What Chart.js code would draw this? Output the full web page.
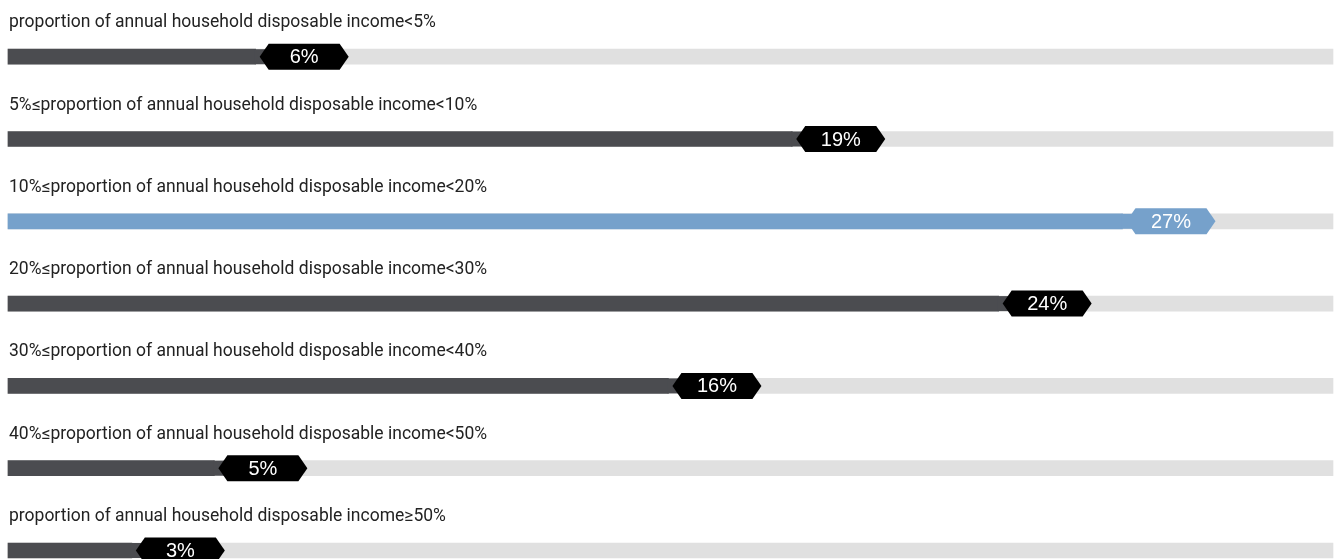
<!DOCTYPE html>
<html>
<head>
<meta charset="utf-8">
<script src="https://cdn.jsdelivr.net/npm/chart.js@4.4.1/dist/chart.umd.min.js"></script>
<style>
  html, body { margin: 0; padding: 0; background: #ffffff; overflow: hidden; }
  #wrap { width: 1338px; height: 559px; }
</style>
</head>
<body>
<div id="wrap"><canvas id="c" width="1338" height="559"></canvas></div>
<script>
const categories = [
  "proportion of annual household disposable income<5%",
  "5%≤proportion of annual household disposable income<10%",
  "10%≤proportion of annual household disposable income<20%",
  "20%≤proportion of annual household disposable income<30%",
  "30%≤proportion of annual household disposable income<40%",
  "40%≤proportion of annual household disposable income<50%",
  "proportion of annual household disposable income≥50%"
];
const values = [6, 19, 27, 24, 16, 5, 3];
const valueLabels = ["6%", "19%", "27%", "24%", "16%", "5%", "3%"];
const highlightIndex = 2;
const axisMax = 32.1;
const trackValues = categories.map(() => axisMax);

const DARK = "#4b4c50";
const BLUE = "#76a1cb";
const TRACK = "#e0e0e0";

const barColors = values.map((v, i) => i === highlightIndex ? BLUE : DARK);

const overlayPlugin = {
  id: "overlay",
  afterDatasetsDraw(chart) {
    const ctx = chart.ctx;
    const meta = chart.getDatasetMeta(0);
    ctx.save();
    meta.data.forEach((el, i) => {
      const x = el.x, y = el.y;
      const col = barColors[i];
      // category label above bar
      ctx.fillStyle = "#222222";
      ctx.font = "17.5px Roboto";
      ctx.textAlign = "left";
      ctx.textBaseline = "alphabetic";
      ctx.fillText(categories[i], chart.chartArea.left + 1, y - 29.5);
      // connector under badge
      ctx.fillStyle = col;
      ctx.fillRect(x - 1, y - 7.5, 16, 15);
      // badge
      const bx = x + 4, h = 13, w = 89, tip = 9;
      ctx.beginPath();
      ctx.moveTo(bx, y);
      ctx.lineTo(bx + tip, y - h);
      ctx.lineTo(bx + w - tip, y - h);
      ctx.lineTo(bx + w, y);
      ctx.lineTo(bx + w - tip, y + h);
      ctx.lineTo(bx + tip, y + h);
      ctx.closePath();
      ctx.fillStyle = i === highlightIndex ? BLUE : "#000000";
      ctx.fill();
      ctx.fillStyle = "#ffffff";
      ctx.font = "20px 'Liberation Sans'";
      ctx.textAlign = "center";
      ctx.textBaseline = "middle";
      ctx.fillText(valueLabels[i], bx + w / 2, y + 1);
    });
    ctx.restore();
  }
};

new Chart(document.getElementById("c"), {
  type: "bar",
  data: {
    labels: categories,
    datasets: [
      {
        data: values,
        backgroundColor: barColors,
        barThickness: 15,
        grouped: false,
        order: 0,
        clip: false
      },
      {
        data: trackValues,
        backgroundColor: TRACK,
        barThickness: 15,
        grouped: false,
        order: 1,
        clip: false
      }
    ]
  },
  options: {
    indexAxis: "y",
    responsive: false,
    animation: false,
    layout: { padding: { left: 8, right: 5, top: 56.7, bottom: 8.5 } },
    plugins: { legend: { display: false }, tooltip: { enabled: false } },
    scales: {
      x: { display: false, min: 0, max: axisMax },
      y: { display: false, offset: false }
    }
  },
  plugins: [overlayPlugin]
});
</script>
</body>
</html>
